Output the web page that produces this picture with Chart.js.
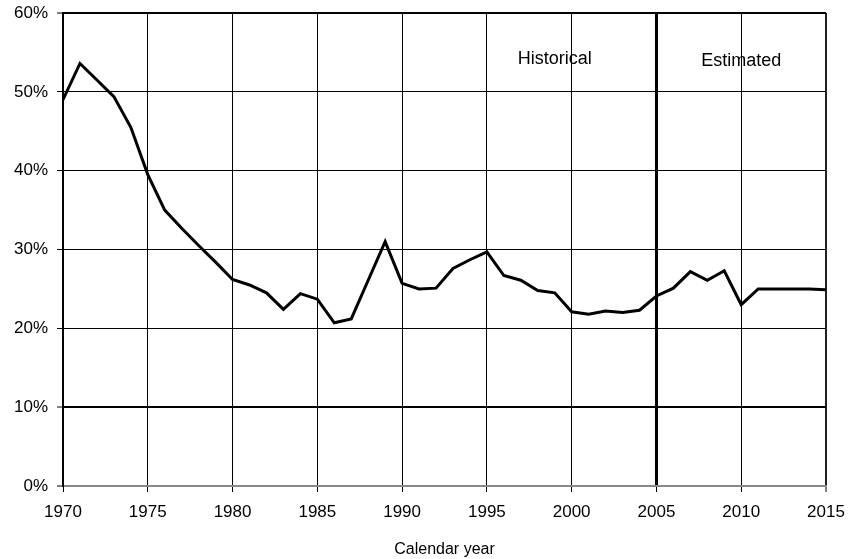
<!DOCTYPE html>
<html>
<head>
<meta charset="utf-8">
<script src="https://cdn.jsdelivr.net/npm/chart.js@4/dist/chart.umd.min.js"></script>
<style>
html,body{margin:0;padding:0;background:#fff;}
#wrap{width:849px;height:559px;position:relative;}
</style>
</head>
<body>
<div id="wrap"><canvas id="c" width="849" height="559"></canvas></div>
<script>
const years = [1970,1971,1972,1973,1974,1975,1976,1977,1978,1979,
               1980,1981,1982,1983,1984,1985,1986,1987,1988,1989,
               1990,1991,1992,1993,1994,1995,1996,1997,1998,1999,
               2000,2001,2002,2003,2004,2005,2006,2007,2008,2009,
               2010,2011,2012,2013,2014,2015];
const shares = [49.0,53.6,51.5,49.4,45.5,39.5,35.0,32.7,30.5,28.4,
                26.2,25.5,24.5,22.4,24.4,23.7,20.7,21.2,26.1,31.0,
                25.7,25.0,25.1,27.6,28.7,29.7,26.7,26.1,24.8,24.5,
                22.1,21.8,22.2,22.0,22.3,24.1,25.1,27.2,26.1,27.3,
                23.0,25.0,25.0,25.0,25.0,24.9];
const xTicks = [1970,1975,1980,1985,1990,1995,2000,2005,2010,2015];
const yTicks = [0,10,20,30,40,50,60];
const periodLabels = ["Historical","Estimated"];
const periodLabelX = [1999,2010];
const periodLabelY = [54.2,53.9];
const splitYear = 2005;
const xTitle = "Calendar year";

const FONT = "'Liberation Sans', Arial, sans-serif";
Chart.defaults.font.family = FONT;
Chart.defaults.color = '#000';

const annot = {
  id:'annot',
  afterDraw(chart){
    const ctx = chart.ctx, x = chart.scales.x, y = chart.scales.y;
    ctx.save();
    ctx.font = "18px " + FONT;
    ctx.fillStyle = '#000';
    ctx.textAlign = 'center';
    ctx.textBaseline = 'middle';
    periodLabels.forEach((t,i)=>{
      ctx.fillText(t, x.getPixelForValue(periodLabelX[i]), y.getPixelForValue(periodLabelY[i]));
    });
    ctx.restore();
  }
};

new Chart(document.getElementById('c'), {
  type:'line',
  data:{
    datasets:[{
      data: years.map((yr,i)=>({x:yr,y:shares[i]})),
      borderColor:'#000',
      borderWidth:3,
      pointRadius:0,
      tension:0,
      fill:false
    }]
  },
  options:{
    responsive:false,
    animation:false,
    layout:{padding:{top:13,right:23,left:0,bottom:0}},
    plugins:{legend:{display:false},tooltip:{enabled:false}},
    scales:{
      x:{
        type:'linear',
        min:1970,max:2015,
        afterBuildTicks(s){ s.ticks = xTicks.map(v=>({value:v})); },
        afterFit(s){ s.height = 73; s.paddingLeft = 0; s.paddingRight = 0; },
        ticks:{font:{size:17},padding:10,maxRotation:0,autoSkip:false,callback:v=>String(v)},
        grid:{
          color:ctx=> ctx.tick && ctx.tick.value===2015 ? '#222' : '#000',
          lineWidth:ctx=> ctx.tick && ctx.tick.value===splitYear ? 3 : (ctx.tick && ctx.tick.value===2015 ? 2 : 1),
          tickLength:6, tickColor:'#000', tickWidth:1
        },
        border:{display:true,color:'#888',width:2},
        title:{display:true,text:xTitle,font:{size:16},padding:{top:4,bottom:0}}
      },
      y:{
        min:0,max:60,
        afterBuildTicks(s){ s.ticks = yTicks.map(v=>({value:v})); },
        afterFit(s){ s.width = 63; s.paddingTop = 0; s.paddingBottom = 0; },
        ticks:{font:{size:17},padding:9,callback:v=>v+'%'},
        grid:{
          color:ctx=> ctx.tick && ctx.tick.value===0 ? '#888' : '#000',
          lineWidth:ctx=> ctx.tick && (ctx.tick.value===10 || ctx.tick.value===60 || ctx.tick.value===0) ? 2 : 1,
          tickLength:6, tickColor:'#000', tickWidth:1
        },
        border:{display:true,color:'#000',width:2}
      }
    }
  },
  plugins:[annot]
});
</script>
</body>
</html>
